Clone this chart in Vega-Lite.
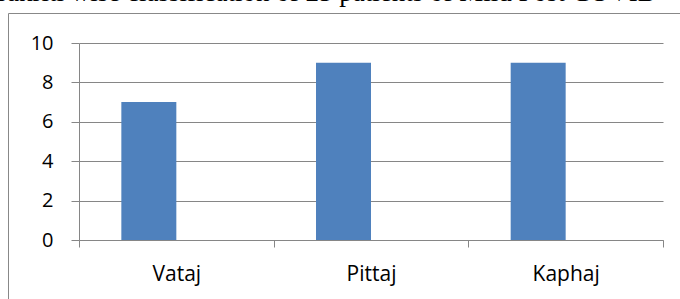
{
  "$schema": "https://vega.github.io/schema/vega-lite/v6.json",
  "width": 672,
  "height": 286,
  "autosize": {"type": "none"},
  "padding": {"left": 8, "top": 13, "right": 0, "bottom": 0},
  "title": {
    "text": "Prakriti wise classification of 25 patients of Mild Post COVID",
    "anchor": "start",
    "font": "Liberation Serif",
    "fontSize": 27,
    "fontWeight": "normal",
    "color": "#000000",
    "offset": 0,
    "baseline": "alphabetic",
    "dx": -25,
    "dy": 15
  },
  "data": {
    "values": [
      {"type": "Vataj", "count": 7, "series": "A"},
      {"type": "Pittaj", "count": 9, "series": "A"},
      {"type": "Kaphaj", "count": 9, "series": "A"}
    ]
  },
  "mark": {"type": "bar", "color": "#4F81BD"},
  "encoding": {
    "x": {
      "field": "type",
      "type": "nominal",
      "sort": null,
      "scale": {"range": [71, 655], "paddingInner": 0, "paddingOuter": 0},
      "axis": {
        "title": null,
        "offset": -59,
        "tickBand": "extent",
        "domainColor": "#868686",
        "tickColor": "#868686",
        "tickSize": 7,
        "labelPadding": 16,
        "labelFont": "Open Sans",
        "labelFontSize": 21,
        "labelColor": "#000000",
        "labelAngle": 0,
        "grid": false
      }
    },
    "xOffset": {
      "field": "series",
      "type": "nominal",
      "scale": {"domain": ["A", "B"], "paddingInner": 0, "paddingOuter": 0.77}
    },
    "y": {
      "field": "count",
      "type": "quantitative",
      "scale": {"domain": [0, 10], "range": [227, 30], "nice": false},
      "axis": {
        "title": null,
        "offset": -71,
        "values": [0, 2, 4, 6, 8, 10],
        "grid": true,
        "gridColor": "#868686",
        "gridWidth": 1,
        "domainColor": "#868686",
        "tickColor": "#868686",
        "tickSize": 8,
        "labelPadding": 18,
        "labelFont": "Open Sans",
        "labelFontSize": 20,
        "labelColor": "#000000"
      }
    }
  },
  "config": {"view": {"stroke": "#888888", "strokeWidth": 1}}
}
